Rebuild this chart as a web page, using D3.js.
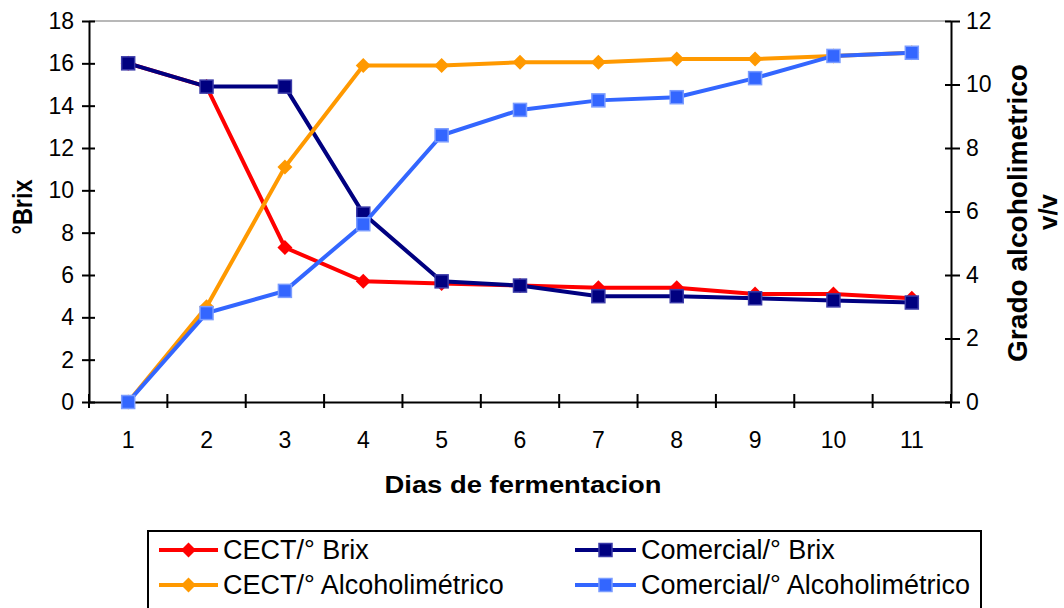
<!DOCTYPE html>
<html><head><meta charset="utf-8">
<script src="https://cdn.jsdelivr.net/npm/d3@7"></script>
<style>body{margin:0;background:#fff}svg{display:block;font-family:"Liberation Sans",Arial,sans-serif}</style>
</head><body><svg id="c" width="1064" height="608"></svg>
<script>
const days = [1,2,3,4,5,6,7,8,9,10,11];
const cectBrix = [16,14.9,7.3,5.7,5.6,5.5,5.4,5.4,5.1,5.1,4.9];
const comBrix = [16,14.9,14.9,8.9,5.7,5.5,5.0,5.0,4.9,4.8,4.7];
const cectAlc = [0,3.0,7.4,10.6,10.6,10.7,10.7,10.8,10.8,10.9,11.0];
const comAlc = [0,2.8,3.5,5.6,8.4,9.2,9.5,9.6,10.2,10.9,11.0];
const leftTicks = [0,2,4,6,8,10,12,14,16,18];
const rightTicks = [0,2,4,6,8,10,12];

const svg = d3.select("#c");
const L=89, R=951, T=21, B=402;
const x = d3.scaleBand().domain(days).range([L,R]);
const yL = d3.scaleLinear().domain([0,18]).range([B,T]);
const yR = d3.scaleLinear().domain([0,12]).range([B,T]);

// top border
svg.append("line").attr("x1",L).attr("x2",R).attr("y1",T).attr("y2",T).attr("stroke","#a0a0a0").attr("stroke-width",1.5);

// left axis
const gL = svg.append("g").attr("transform",`translate(${L},0)`)
  .call(d3.axisLeft(yL).tickValues(leftTicks).tickSizeInner(7).tickSizeOuter(0).tickPadding(8));
gL.selectAll(".tick line").attr("x2",6).attr("x1",-7);
// right axis
const gR = svg.append("g").attr("transform",`translate(${R},0)`)
  .call(d3.axisRight(yR).tickValues(rightTicks).tickSizeInner(9).tickSizeOuter(0).tickPadding(6));
gR.selectAll(".tick line").attr("x1",-6).attr("x2",9);
// bottom axis
const gB = svg.append("g").attr("transform",`translate(0,${B})`)
  .call(d3.axisBottom(x).tickSize(0).tickPadding(30));
// category boundary ticks
const bounds = days.map(d=>x(d)).concat([R]);
svg.append("g").selectAll("line").data(bounds).join("line")
  .attr("x1",d=>d).attr("x2",d=>d).attr("y1",B-8).attr("y2",B+6).attr("stroke","#000").attr("stroke-width",2);

[gL,gR,gB].forEach(g=>{
  g.selectAll(".domain").attr("stroke","#000").attr("stroke-width",2);
  g.selectAll(".tick line").attr("stroke","#000").attr("stroke-width",2);
  g.selectAll("text").attr("font-size",23).attr("fill","#000").attr("font-family","Liberation Sans, Arial, sans-serif");
});

// titles
svg.append("text").attr("transform","translate(32,207) rotate(-90)").attr("text-anchor","middle")
  .attr("font-weight","bold").attr("font-size",28).attr("textLength",55).attr("lengthAdjust","spacingAndGlyphs").text("°Brix");
svg.append("text").attr("x",523).attr("y",493).attr("text-anchor","middle")
  .attr("font-weight","bold").attr("font-size",24).attr("textLength",277).attr("lengthAdjust","spacingAndGlyphs").text("Dias de fermentacion");
svg.append("text").attr("transform","translate(1027,213) rotate(-90)").attr("text-anchor","middle")
  .attr("font-weight","bold").attr("font-size",27).attr("textLength",298).attr("lengthAdjust","spacingAndGlyphs").text("Grado alcoholimetrico");
svg.append("text").attr("transform","translate(1057,212) rotate(-90)").attr("text-anchor","middle")
  .attr("font-weight","bold").attr("font-size",26).text("v/v");

const cx = d => x(d)+x.bandwidth()/2;
const series = [
  {name:"CECT/° Brix", vals:cectBrix, y:yL, color:"#FF0000", stroke:"#FF0000", shape:"diamond"},
  {name:"Comercial/° Brix", vals:comBrix, y:yL, color:"#000080", stroke:"#3a3aa8", shape:"square"},
  {name:"CECT/° Alcoholimétrico", vals:cectAlc, y:yR, color:"#FF9900", stroke:"#FF9900", shape:"diamond"},
  {name:"Comercial/° Alcoholimétrico", vals:comAlc, y:yR, color:"#3366FF", stroke:"#7a9cff", shape:"square"}
];
function marker(g, shape, color, stroke){
  if(shape==="diamond"){
    g.append("path").attr("d","M0,-7.5L7.5,0L0,7.5L-7.5,0Z").attr("fill",color);
  } else {
    g.append("rect").attr("x",-6.5).attr("y",-6.5).attr("width",13).attr("height",13)
      .attr("fill",color).attr("stroke",stroke).attr("stroke-width",1.5);
  }
}
series.forEach(s=>{
  const line = d3.line().x((v,i)=>cx(days[i])).y(v=>s.y(v));
  svg.append("path").datum(s.vals).attr("d",line).attr("fill","none").attr("stroke",s.color).attr("stroke-width",4);
  s.vals.forEach((v,i)=>{
    const g = svg.append("g").attr("transform",`translate(${cx(days[i])},${s.y(v)})`);
    marker(g,s.shape,s.color,s.stroke);
  });
});

// legend
svg.append("rect").attr("x",148).attr("y",531).attr("width",833).attr("height",90).attr("fill","none").attr("stroke","#000").attr("stroke-width",2);
const legPos = [[159,550],[575,550],[159,585],[575,585]];
const legOrder = [0,1,2,3];
legOrder.forEach((si,k)=>{
  const s = series[si]; const [lx,ly] = legPos[k];
  const w = k%2===0 ? 59 : 61;
  svg.append("line").attr("x1",lx).attr("x2",lx+w).attr("y1",ly).attr("y2",ly).attr("stroke",s.color).attr("stroke-width",4);
  const g = svg.append("g").attr("transform",`translate(${lx+w/2},${ly})`);
  marker(g,s.shape,s.color,s.stroke);
  svg.append("text").attr("x",lx+w+5).attr("y",ly+9).attr("font-size",27).text(s.name);
});
</script></body></html>
